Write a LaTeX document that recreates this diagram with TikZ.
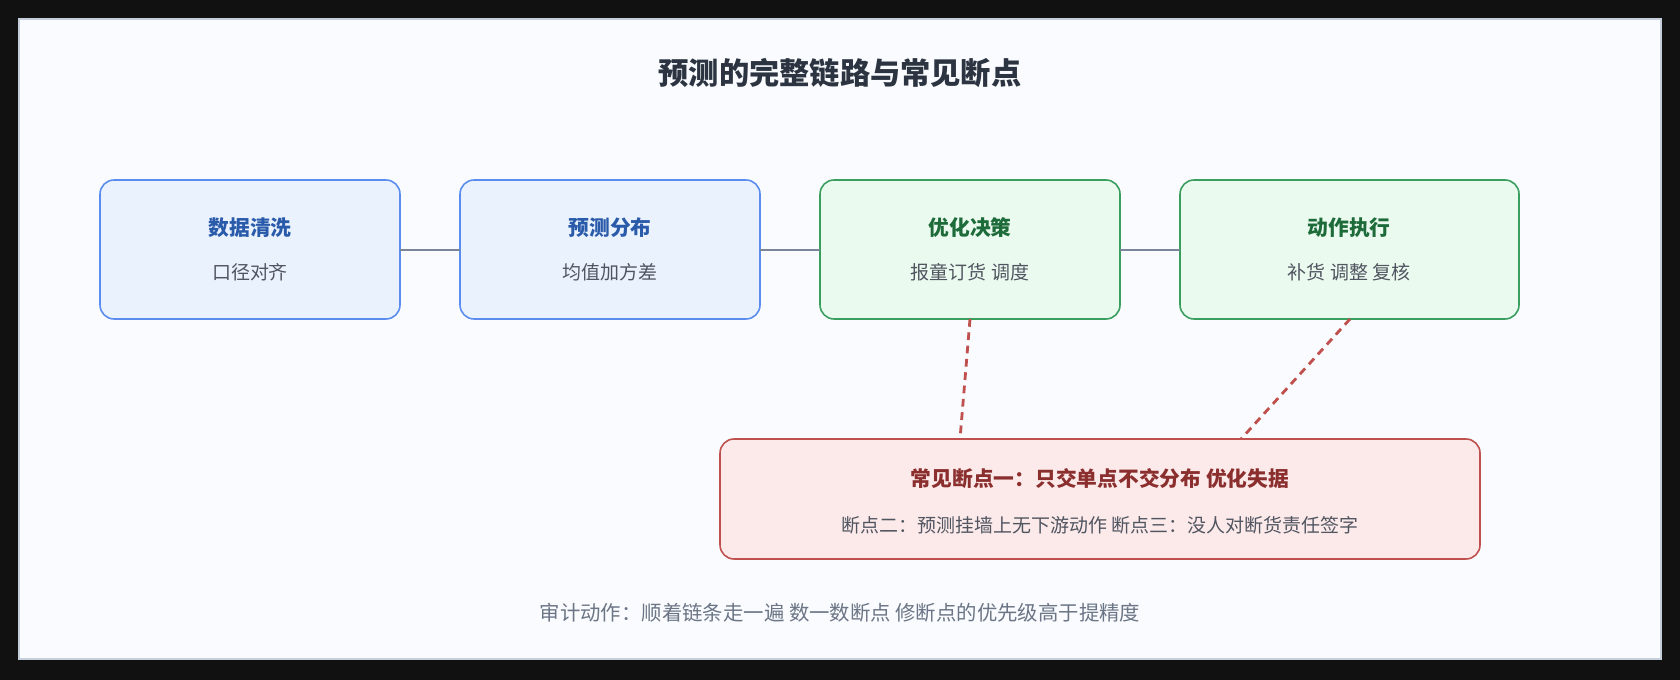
\documentclass[tikz,border=0pt]{standalone}
\usepackage{fontspec}
\setmainfont{Noto Sans CJK SC}
\definecolor{bgdark}{HTML}{111111}
\definecolor{paper}{HTML}{F9FBFE}
\definecolor{frameline}{HTML}{C5CEDB}
\definecolor{bluefill}{HTML}{EAF2FE}
\definecolor{blueline}{HTML}{5B8DEF}
\definecolor{bluetext}{HTML}{2A5BAA}
\definecolor{greenfill}{HTML}{EAFAEF}
\definecolor{greenline}{HTML}{3A9E5F}
\definecolor{greentext}{HTML}{1E6B3A}
\definecolor{redfill}{HTML}{FCEAEA}
\definecolor{redline}{HTML}{C0504D}
\definecolor{redtext}{HTML}{8B2E2E}
\definecolor{linkgray}{HTML}{7A8599}
\definecolor{subgray}{HTML}{505560}
\definecolor{titlegray}{HTML}{2B3440}
\definecolor{footgray}{HTML}{6B7585}
\begin{document}
\begin{tikzpicture}[x=0.01cm, y=-0.01cm, line width=0.5pt]
        \tikzstyle{stage}=[rectangle, rounded corners=4pt, minimum width=300\pgflinewidth, inner sep=0pt, line width=0.45pt]
        \tikzstyle{head}=[font=\fontsize{5.9}{7}\selectfont\bfseries]
        \tikzstyle{sub}=[font=\fontsize{5.4}{7}\selectfont, text=subgray]

        \fill[bgdark] (0,0) rectangle (1680,680);
        \draw[fill=paper, draw=frameline, line width=0.6pt] (19,19) rectangle (1661,659);
        \node[font=\fontsize{8.6}{10}\selectfont\bfseries, text=titlegray] (title) at (840,73) {预测的完整链路与常见断点};

        \draw[stage, fill=bluefill, draw=blueline] (100,180) rectangle (400,319);
        \draw[stage, fill=bluefill, draw=blueline] (460,180) rectangle (760,319);
        \draw[stage, fill=greenfill, draw=greenline] (820,180) rectangle (1120,319);
        \draw[stage, fill=greenfill, draw=greenline] (1180,180) rectangle (1519,319);
        \draw[stage, fill=redfill, draw=redline] (720,439) rectangle (1480,559);
        \coordinate (s1r) at (400,250); \coordinate (s2l) at (460,250);
        \coordinate (s2r) at (760,250); \coordinate (s3l) at (820,250);
        \coordinate (s3r) at (1120,250); \coordinate (s4l) at (1180,250);
        \coordinate (s3b) at (970,319); \coordinate (n1) at (960,439);
        \coordinate (s4b) at (1350,319); \coordinate (n2) at (1241,439);

        \node[head, text=bluetext] (clean) at (250,228) {数据清洗};
        \node[sub] (cleansub) at (250,272) {口径对齐};
        \node[head, text=bluetext] (dist) at (610,228) {预测分布};
        \node[sub] (distsub) at (610,272) {均值加方差};
        \node[head, text=greentext] (opt) at (970,228) {优化决策};
        \node[sub] (optsub) at (970,272) {报童订货 调度};
        \node[head, text=greentext] (act) at (1349,228) {动作执行};
        \node[sub] (actsub) at (1349,272) {补货 调整 复核};
        \node[head, text=redtext] (gap) at (1100,479) {常见断点一：只交单点不交分布 优化失据};
        \node[sub] (gapsub) at (1100,525) {断点二：预测挂墙上无下游动作 断点三：没人对断货责任签字};
        \node[font=\fontsize{5.8}{7}\selectfont, text=footgray] (audit) at (840,613) {审计动作：顺着链条走一遍 数一数断点 修断点的优先级高于提精度};

        \draw[linkgray, line width=0.8pt] (s1r) -- (s2l);
        \draw[linkgray, line width=0.8pt] (s2r) -- (s3l);
        \draw[linkgray, line width=0.8pt] (s3r) -- (s4l);
        \draw[redline, line width=0.8pt, dash pattern=on 2.2pt off 1.6pt] (s3b) -- (n1);
        \draw[redline, line width=0.8pt, dash pattern=on 2.2pt off 1.6pt] (s4b) -- (n2);
\end{tikzpicture}
\end{document}
